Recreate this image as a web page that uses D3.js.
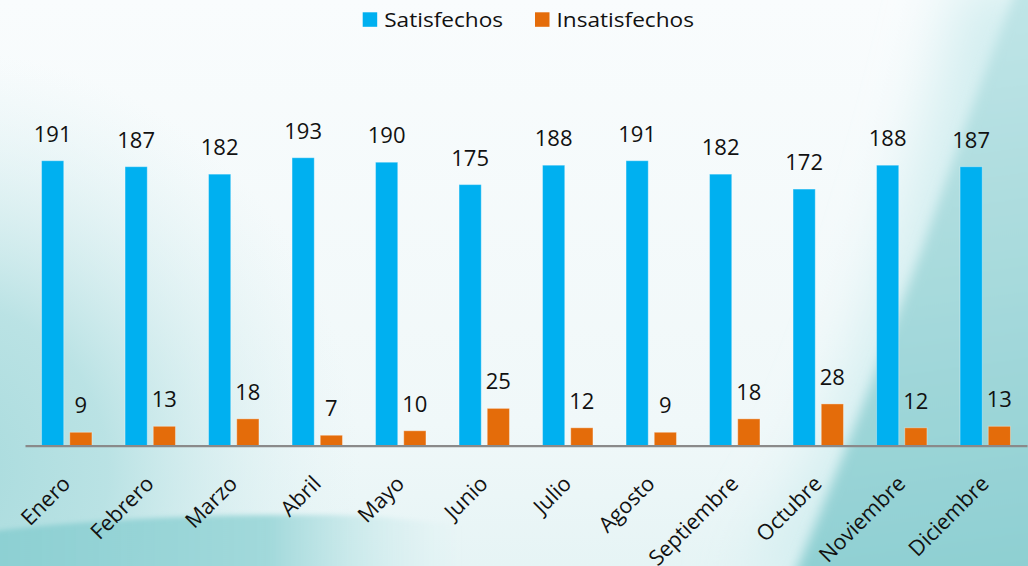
<!DOCTYPE html>
<html>
<head>
<meta charset="utf-8">
<title>Satisfechos / Insatisfechos</title>
<script src="https://d3js.org/d3.v7.min.js"></script>
<style>
  body { margin: 0; background: #f7fbfc; }
  svg { display: block; }
  .lbl { font-family: "Open Sans", sans-serif; fill: #111; }
</style>
</head>
<body>
<svg id="chart" width="1028" height="566"></svg>
<script>
// data
const months = ["Enero", "Febrero", "Marzo", "Abril", "Mayo", "Junio", "Julio",
                "Agosto", "Septiembre", "Octubre", "Noviembre", "Diciembre"];
const satisfechos = [191, 187, 182, 193, 190, 175, 188, 191, 182, 172, 188, 187];
const insatisfechos = [9, 13, 18, 7, 10, 25, 12, 9, 18, 28, 12, 13];
const seriesNames = ["Satisfechos", "Insatisfechos"];
const colors = ["#00b0f0", "#e46c0a"];

const W = 1028, H = 566;
const stretch = 1.16;   // legend text in the original is a bit wide

const svg = d3.select("#chart");
const defs = svg.append("defs");

// background pieces
const bg = defs.append("linearGradient").attr("id", "bg")
    .attr("x1", 0).attr("y1", 0).attr("x2", 0).attr("y2", 1);
bg.append("stop").attr("offset", "0%").attr("stop-color", "#f9fcfd");
bg.append("stop").attr("offset", "75%").attr("stop-color", "#f0f8f9");
bg.append("stop").attr("offset", "100%").attr("stop-color", "#e6f4f5");

const leftGlow = defs.append("radialGradient").attr("id", "leftGlow")
    .attr("gradientUnits", "userSpaceOnUse")
    .attr("cx", -60).attr("cy", 470).attr("r", 420);
leftGlow.append("stop").attr("offset", "0%").attr("stop-color", "#a6dadc").attr("stop-opacity", 1);
leftGlow.append("stop").attr("offset", "40%").attr("stop-color", "#b4e0e2").attr("stop-opacity", 0.9);
leftGlow.append("stop").attr("offset", "100%").attr("stop-color", "#dff1f3").attr("stop-opacity", 0);

const rightFill = defs.append("linearGradient").attr("id", "rightFill")
    .attr("gradientUnits", "userSpaceOnUse")
    .attr("x1", 950).attr("y1", 0).attr("x2", 1028).attr("y2", 566);
rightFill.append("stop").attr("offset", "0%").attr("stop-color", "#c0e5e7");
rightFill.append("stop").attr("offset", "35%").attr("stop-color", "#aedddf");
rightFill.append("stop").attr("offset", "100%").attr("stop-color", "#8ecfd2");

const bandFill = defs.append("linearGradient").attr("id", "bandFill")
    .attr("x1", 0).attr("y1", 0).attr("x2", 1).attr("y2", 0);
bandFill.append("stop").attr("offset", "0%").attr("stop-color", "#8ccfd2").attr("stop-opacity", 1);
bandFill.append("stop").attr("offset", "60%").attr("stop-color", "#9ad6d8").attr("stop-opacity", 0.9);
bandFill.append("stop").attr("offset", "100%").attr("stop-color", "#c9eaec").attr("stop-opacity", 0);

function blur(id, sd) {
  defs.append("filter").attr("id", id)
      .attr("filterUnits", "userSpaceOnUse")
      .attr("x", -100).attr("y", -100).attr("width", W + 200).attr("height", H + 200)
    .append("feGaussianBlur").attr("stdDeviation", sd);
}
blur("blurBig", 30);
blur("blurMid", 6);
blur("blurSmall", 2.5);

const back = svg.append("g");
back.append("rect").attr("width", W).attr("height", H).attr("fill", "url(#bg)");
back.append("rect").attr("width", 460).attr("height", H).attr("fill", "url(#leftGlow)");
// right teal sweep: soft halo then the main area
back.append("path")
    .attr("d", "M960,-20 C930,120 880,300 830,420 C800,490 770,530 740,590 L1060,590 L1060,-20 Z")
    .attr("fill", "#d3eef0").attr("filter", "url(#blurBig)");
back.append("path")
    .attr("d", "M1020,-20 C985,70 950,170 922,250 C895,320 860,420 788,590 L1060,590 L1060,-20 Z")
    .attr("fill", "url(#rightFill)").attr("filter", "url(#blurMid)");
// bottom band on the left
back.append("path")
    .attr("d", "M-20,533 C80,520 200,514 330,515 C380,516 420,520 460,526 L460,590 L-20,590 Z")
    .attr("fill", "url(#bandFill)").attr("filter", "url(#blurSmall)");

// scales
const x0 = d3.scaleBand().domain(months).range([25, 1027]);
const x1 = d3.scaleBand().domain(seriesNames).range([0, x0.bandwidth()])
    .paddingInner(0.213).paddingOuter(0.587);
const y = d3.scaleLinear().domain([0, 250]).range([445.7, 72.7]);

const rows = months.map((m, i) => ({
  month: m,
  vals: [satisfechos[i], insatisfechos[i]]
}));

const groups = svg.append("g").selectAll("g").data(rows).join("g")
    .attr("transform", d => `translate(${x0(d.month)},0)`);

groups.selectAll("rect").data(d => d.vals.map((v, k) => ({ v, k }))).join("rect")
    .attr("x", d => x1(seriesNames[d.k]))
    .attr("y", d => y(d.v))
    .attr("width", x1.bandwidth())
    .attr("height", d => y(0) - y(d.v))
    .attr("fill", d => colors[d.k])
    .attr("stroke", "rgba(255,255,255,0.35)")
    .attr("stroke-width", 1);

groups.selectAll("text").data(d => d.vals.map((v, k) => ({ v, k }))).join("text")
    .attr("class", "lbl")
    .attr("x", d => x1(seriesNames[d.k]) + x1.bandwidth() / 2)
    .attr("y", d => y(d.v) - 19)
    .attr("text-anchor", "middle")
    .style("font-size", "22px")
    .text(d => d.v);

// x axis
const xAxis = svg.append("g").attr("transform", `translate(0,${y(0)})`)
    .call(d3.axisBottom(x0).tickSize(0).tickFormat(""));
xAxis.select(".domain").attr("stroke", "#8a8a8a").attr("stroke-width", 2.2);

svg.append("g").selectAll("text").data(months).join("text")
    .attr("class", "lbl")
    .attr("transform", d => `translate(${x0(d) + x0.bandwidth() / 2 + 5},485) rotate(-45)`)
    .attr("text-anchor", "end")
    .style("font-size", "21.5px")
    .text(d => d);

// legend
const legendX = [362.7, 535];
const legend = svg.append("g").selectAll("g").data(seriesNames).join("g")
    .attr("transform", (d, i) => `translate(${legendX[i]},12.3)`);
legend.append("rect").attr("width", 14.5).attr("height", 14.5)
    .attr("fill", (d, i) => colors[i]);
legend.append("text").attr("class", "lbl")
    .attr("transform", `translate(21.5,14.6) scale(${stretch},1)`)
    .style("font-size", "19.5px")
    .text(d => d);
</script>
</body>
</html>
